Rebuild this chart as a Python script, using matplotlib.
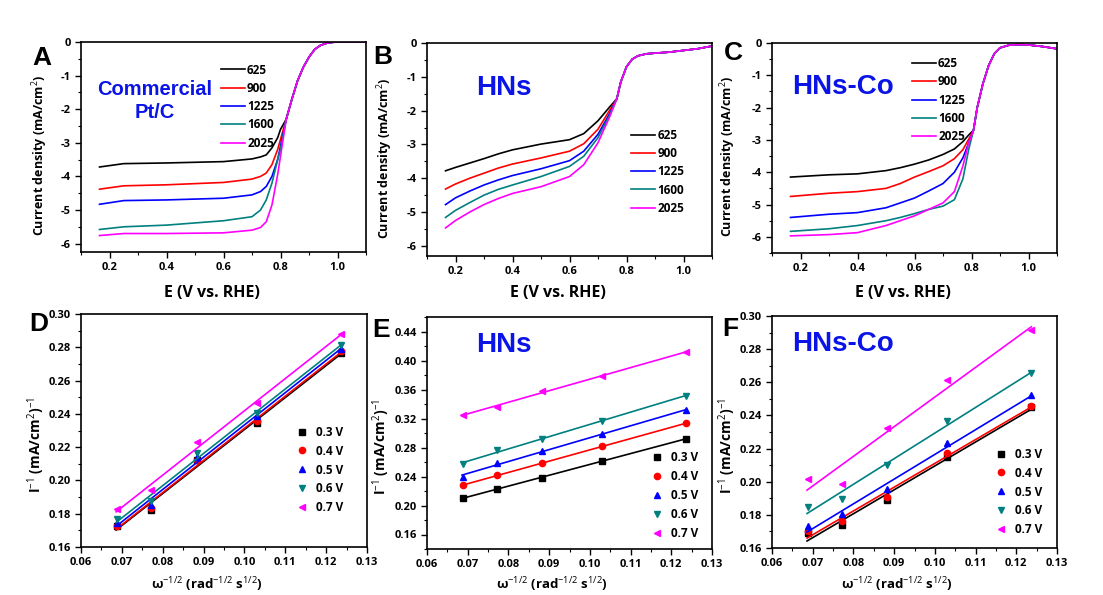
import numpy as np
import matplotlib.pyplot as plt
from matplotlib.ticker import MultipleLocator

plt.rcParams['font.family'] = ['Open Sans', 'DejaVu Sans']
plt.rcParams['mathtext.fontset'] = 'custom'
plt.rcParams['mathtext.rm'] = 'Open Sans'
plt.rcParams['mathtext.it'] = 'Open Sans:italic'
plt.rcParams['mathtext.bf'] = 'Open Sans:bold'

colors = ["#000000", "#ff0000", "#0000ff", "#008080", "#ff00ff"]
rpm = ["625", "900", "1225", "1600", "2025"]
volts = ["0.3 V", "0.4 V", "0.5 V", "0.6 V", "0.7 V"]

# ---- LSV data (A: commercial Pt/C) ----
e_a_low = [0.165, 0.25, 0.4, 0.6, 0.7, 0.73, 0.75, 0.77, 0.79, 0.80]
j_a_low = [
    [-3.72, -3.62, -3.60, -3.56, -3.48, -3.42, -3.36, -3.15, -2.85, -2.60],
    [-4.38, -4.28, -4.25, -4.18, -4.08, -4.00, -3.90, -3.65, -3.20, -2.90],
    [-4.83, -4.72, -4.70, -4.65, -4.55, -4.45, -4.30, -4.00, -3.50, -3.10],
    [-5.58, -5.50, -5.45, -5.32, -5.20, -5.00, -4.70, -4.20, -3.50, -3.20],
    [-5.76, -5.70, -5.70, -5.68, -5.60, -5.52, -5.35, -4.85, -3.95, -3.40],
]
e_a_tail = [0.82, 0.84, 0.86, 0.88, 0.90, 0.92, 0.94, 0.96, 0.98, 1.00, 1.10]
j_a_tail = [-2.30, -1.70, -1.15, -0.75, -0.45, -0.22, -0.10, -0.04, -0.01, 0.0, 0.0]

# ---- LSV data (B: HNs) ----
e_b_low = [0.165, 0.2, 0.25, 0.3, 0.35, 0.4, 0.5, 0.6, 0.65, 0.7, 0.74]
j_b_low = [
    [-3.78, -3.68, -3.55, -3.42, -3.28, -3.16, -2.99, -2.86, -2.68, -2.30, -1.90],
    [-4.32, -4.17, -4.00, -3.85, -3.70, -3.58, -3.40, -3.20, -2.98, -2.55, -2.00],
    [-4.78, -4.58, -4.38, -4.20, -4.05, -3.92, -3.72, -3.48, -3.20, -2.70, -2.10],
    [-5.16, -4.95, -4.72, -4.50, -4.33, -4.20, -3.95, -3.65, -3.35, -2.80, -2.15],
    [-5.47, -5.25, -5.00, -4.78, -4.60, -4.45, -4.25, -3.95, -3.60, -2.95, -2.20],
]
e_b_tail = [0.766, 0.78, 0.80, 0.82, 0.84, 0.87, 0.90, 0.95, 1.00, 1.05, 1.10]
j_b_tail = [-1.65, -1.15, -0.70, -0.48, -0.38, -0.32, -0.30, -0.27, -0.22, -0.17, -0.09]

# ---- LSV data (C: HNs-Co) ----
e_c_low = [0.165, 0.3, 0.4, 0.5, 0.55, 0.6, 0.65, 0.7, 0.74, 0.77, 0.79, 0.807]
j_c_low = [
    [-4.15, -4.08, -4.05, -3.95, -3.86, -3.75, -3.62, -3.45, -3.28, -3.05, -2.85, -2.70],
    [-4.75, -4.65, -4.60, -4.50, -4.35, -4.15, -3.98, -3.80, -3.58, -3.30, -2.98, -2.70],
    [-5.40, -5.30, -5.25, -5.10, -4.95, -4.80, -4.58, -4.35, -4.00, -3.55, -3.10, -2.70],
    [-5.83, -5.75, -5.65, -5.50, -5.40, -5.28, -5.15, -5.05, -4.85, -4.20, -3.30, -2.70],
    [-5.97, -5.93, -5.87, -5.65, -5.50, -5.35, -5.15, -4.95, -4.60, -3.80, -3.10, -2.70],
]
e_c_tail = [0.82, 0.84, 0.86, 0.88, 0.90, 0.93, 0.96, 1.00, 1.05, 1.10]
j_c_tail = [-2.00, -1.26, -0.70, -0.33, -0.15, -0.07, -0.05, -0.06, -0.11, -0.18]

# ---- Koutecky-Levich data ----
w_inv = [0.0689, 0.0772, 0.0883, 0.1031, 0.1237]
kl_d = [
    [0.1728, 0.1822, 0.2120, 0.2347, 0.2766],
    [0.1727, 0.1835, 0.2125, 0.2355, 0.2775],
    [0.1745, 0.1850, 0.2140, 0.2390, 0.2790],
    [0.1768, 0.1875, 0.2165, 0.2405, 0.2815],
    [0.1830, 0.1940, 0.2230, 0.2465, 0.2878],
]
kl_e = [
    [0.2106, 0.2225, 0.2386, 0.2612, 0.2924],
    [0.2276, 0.2423, 0.2584, 0.2814, 0.3136],
    [0.2400, 0.2589, 0.2745, 0.2984, 0.3320],
    [0.2570, 0.2763, 0.2920, 0.3168, 0.3517],
    [0.3250, 0.3360, 0.3577, 0.3793, 0.4115],
]
kl_f = [
    [0.1690, 0.1739, 0.1890, 0.2149, 0.2449],
    [0.1700, 0.1760, 0.1906, 0.2175, 0.2455],
    [0.1733, 0.1805, 0.1954, 0.2232, 0.2521],
    [0.1847, 0.1898, 0.2103, 0.2364, 0.2656],
    [0.2018, 0.1988, 0.2326, 0.2616, 0.2913],
]
markers = ["s", "o", "^", "v", "<"]

fig = plt.figure(figsize=(11.03, 5.95), dpi=100)
W, H = 1103, 595


def add_ax(left, top, right, bottom):
    return fig.add_axes([left / W, 1 - bottom / H, (right - left) / W, (bottom - top) / H])


def style(ax):
    ax.tick_params(which='both', direction='out', labelsize=8, top=False, right=False)
    ax.tick_params(which='major', length=4, width=1)
    ax.tick_params(which='minor', length=2.5, width=0.8)
    for s in ax.spines.values():
        s.set_linewidth(1.2)
    for t in ax.get_xticklabels() + ax.get_yticklabels():
        t.set_fontweight('bold')


lsv_axes = [add_ax(81, 42, 366, 252), add_ax(427, 43, 712, 256), add_ax(772, 43, 1057, 253)]
lsv_low = [(e_a_low, j_a_low), (e_b_low, j_b_low), (e_c_low, j_c_low)]
lsv_tail = [(e_a_tail, j_a_tail), (e_b_tail, j_b_tail), (e_c_tail, j_c_tail)]
lsv_ylim = [-6.25, -6.3, -6.5]
legend_pos = [(0.475, 0.92), (0.70, 0.62), (0.475, 0.955)]
xlab_y = [-0.157, -0.136, -0.152]
ylab_x = [-0.109, -0.112, -0.12]

for i, ax in enumerate(lsv_axes):
    el, jl = lsv_low[i]
    et, jt = lsv_tail[i]
    for k in range(5):
        ax.plot(list(el) + list(et), list(jl[k]) + list(jt), color=colors[k], lw=1.2, label=rpm[k])
    ax.set_xlim(0.1, 1.1)
    ax.set_ylim(lsv_ylim[i], 0)
    ax.xaxis.set_major_locator(MultipleLocator(0.2))
    ax.xaxis.set_minor_locator(MultipleLocator(0.1))
    ax.yaxis.set_minor_locator(MultipleLocator(0.5))
    ax.set_yticks([0, -1, -2, -3, -4, -5, -6])
    ax.set_yticklabels(['0', '-1', '-2', '-3', '-4', '-5', '-6'])
    style(ax)
    ax.set_xlabel("E (V vs. RHE)", fontsize=11.5, fontweight='bold')
    ax.xaxis.set_label_coords(0.46, xlab_y[i])
    ax.set_ylabel("Current density (mA/cm$^{2}$)", fontsize=9, fontweight='bold')
    ax.yaxis.set_label_coords(ylab_x[i], 0.46)
    leg = ax.legend(loc='upper left', bbox_to_anchor=legend_pos[i], frameon=False, fontsize=8.5,
                    handlelength=2.0, handletextpad=0.2, labelspacing=0.45, borderaxespad=0)
    for t in leg.get_texts():
        t.set_fontweight('bold')

kl_axes = [add_ax(81, 314, 367, 547), add_ax(427, 317, 712, 549), add_ax(772, 316, 1057, 548)]
kl_data = [kl_d, kl_e, kl_f]
kl_ylim = [(0.16, 0.30), (0.14, 0.46), (0.16, 0.30)]
kl_step = [(0.02, 0.01), (0.04, 0.02), (0.02, 0.01)]
kl_leg = [(0.935, 0.12), (0.97, 0.02), (0.965, 0.03)]
kl_xlab_y = [-0.12, -0.115, -0.118]
kl_ylab_x = [-0.118, -0.123, -0.118]

for i, ax in enumerate(kl_axes):
    data = kl_data[i]
    for k in range(5):
        ax.plot(w_inv, data[k], ls='none', marker=markers[k], ms=4.5, color=colors[k], label=volts[k])
        a, b = np.polyfit(w_inv, data[k], 1)
        xs = np.array([w_inv[0] - 0.0003, w_inv[-1]])
        ax.plot(xs, a * xs + b, color=colors[k], lw=1.2)
    ax.set_xlim(0.06, 0.13)
    ax.set_ylim(*kl_ylim[i])
    ax.xaxis.set_major_locator(MultipleLocator(0.01))
    ax.xaxis.set_minor_locator(MultipleLocator(0.005))
    ax.yaxis.set_major_locator(MultipleLocator(kl_step[i][0]))
    ax.yaxis.set_minor_locator(MultipleLocator(kl_step[i][1]))
    ax.xaxis.set_major_formatter(plt.FormatStrFormatter('%.2f'))
    ax.yaxis.set_major_formatter(plt.FormatStrFormatter('%.2f'))
    style(ax)
    ax.set_xlabel("ω$^{-1/2}$ (rad$^{-1/2}$ s$^{1/2}$)", fontsize=9.5, fontweight='bold')
    ax.xaxis.set_label_coords(0.44, kl_xlab_y[i])
    ax.set_ylabel("I$^{-1}$ (mA/cm$^{2}$)$^{-1}$", fontsize=10, fontweight='bold')
    ax.yaxis.set_label_coords(kl_ylab_x[i], 0.44)
    leg = ax.legend(loc='lower right', bbox_to_anchor=kl_leg[i], frameon=False, fontsize=8.5,
                    handlelength=1.2, handletextpad=0.6, labelspacing=0.5, borderaxespad=0)
    for t in leg.get_texts():
        t.set_fontweight('bold')

# sample names
blue = "#0a14e6"
lsv_axes[0].text(0.26, 0.72, "Commercial\nPt/C", transform=lsv_axes[0].transAxes, ha='center', va='center',
                 color=blue, fontsize=14.5, fontweight='bold', family='Liberation Sans', linespacing=1.25)
lsv_axes[1].text(0.27, 0.79, "HNs", transform=lsv_axes[1].transAxes, ha='center', va='center',
                 color=blue, fontsize=20, fontweight='bold', family='Liberation Sans')
lsv_axes[2].text(0.25, 0.79, "HNs-Co", transform=lsv_axes[2].transAxes, ha='center', va='center',
                 color=blue, fontsize=20, fontweight='bold', family='Liberation Sans')
kl_axes[1].text(0.27, 0.88, "HNs", transform=kl_axes[1].transAxes, ha='center', va='center',
                color=blue, fontsize=20, fontweight='bold', family='Liberation Sans')
kl_axes[2].text(0.25, 0.88, "HNs-Co", transform=kl_axes[2].transAxes, ha='center', va='center',
                color=blue, fontsize=20, fontweight='bold', family='Liberation Sans')

# panel letters
for letter, x, y in [("A", 42, 58), ("B", 383, 57), ("C", 733, 53),
                     ("D", 39, 324), ("E", 381, 330), ("F", 730, 329)]:
    fig.text(x / W, 1 - y / H, letter, ha='center', va='center', fontsize=19,
             fontweight='bold', family='Liberation Sans')

fig.savefig("out.png", dpi=100)
